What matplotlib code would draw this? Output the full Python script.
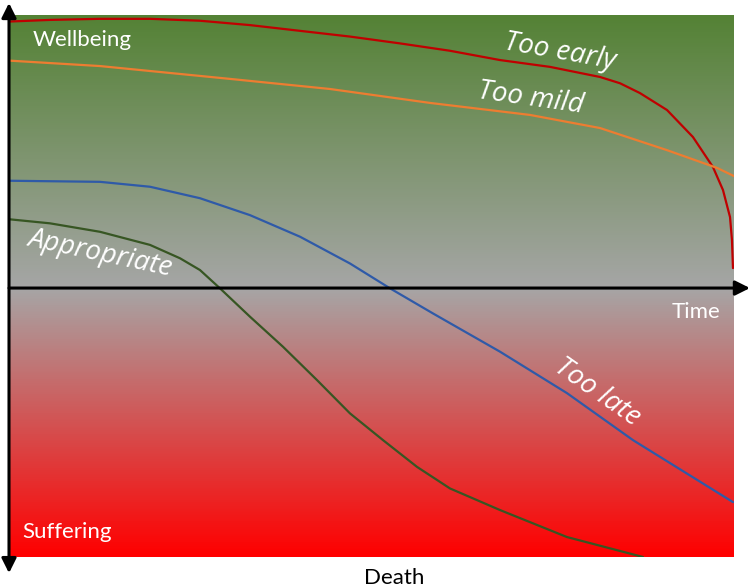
import numpy as np
import matplotlib
matplotlib.use("Agg")
import matplotlib.pyplot as plt
from matplotlib.colors import LinearSegmentedColormap

# ---- data (time 0..100, wellbeing -100..100) ----
early_t = [0, 5.66, 12.55, 19.45, 26.34, 33.24, 40.14, 47.03, 53.93, 60.83, 67.72,
           74.62, 81.52, 84.28, 87.03, 90.76, 94.34, 97.10, 98.48, 99.45, 99.72, 99.86]
early_w = [97.6, 98.2, 98.6, 98.6, 97.9, 96.3, 94.2, 92.1, 89.6, 86.9, 83.5,
           81.0, 77.3, 75.0, 71.4, 65.2, 55.3, 44.3, 35.9, 26.0, 17.6, 7.3]

mild_t = [0, 12.55, 30.48, 44.28, 58.07, 71.86, 81.52, 90.76, 97.66, 100]
mild_w = [83.3, 81.3, 76.6, 72.9, 67.8, 63.4, 58.6, 50.5, 44.0, 41.0]

late_t = [0, 12.55, 19.45, 26.34, 33.24, 40.14, 47.03, 52.55, 58.48, 67.72, 76.97, 86.07, 99.86]
late_w = [39.3, 38.9, 37.1, 32.9, 26.7, 18.8, 9.0, -0.1, -9.3, -23.3, -38.5, -55.7, -78.4]

appr_t = [0, 5.66, 12.55, 19.45, 23.59, 26.34, 29.10, 33.24, 37.79, 42.48, 47.03,
          51.59, 56.28, 60.83, 67.72, 76.97, 87.45]
appr_w = [25.2, 23.7, 20.6, 15.8, 10.9, 6.6, -0.1, -10.5, -21.5, -33.7, -45.9,
          -55.7, -65.5, -73.4, -81.3, -91.2, -98.5]

YMIN, YMAX = -98.5, 100

fig = plt.figure(figsize=(7.5, 5.88), dpi=100)
ax = fig.add_axes([9/750, 31/588, 725/750, 542/588])
ax.set_xlim(0, 100)
ax.set_ylim(YMIN, YMAX)
ax.axis('off')

# gradient background
frac_mid = YMAX / (YMAX - YMIN)
cmap = LinearSegmentedColormap.from_list(
    'bg', [(0, '#548235'), (frac_mid, '#a6a6a6'), (1, '#ff0000')])
grad = np.linspace(0, 1, 512).reshape(-1, 1)
ax.imshow(grad, cmap=cmap, extent=[0, 100, YMIN, YMAX], aspect='auto',
          origin='upper', zorder=0)

# curves
kw = dict(lw=1.6, zorder=3, solid_joinstyle='round', solid_capstyle='round')
ax.plot(early_t, early_w, color='#c00000', **kw)
ax.plot(mild_t, mild_w, color='#ed7d31', **kw)
ax.plot(late_t, late_w, color='#2f5aa8', **kw)
ax.plot(appr_t, appr_w, color='#375623', **kw)

# axes arrows
ax.annotate('', xy=(0, 104.4), xytext=(0, -104.4),
            arrowprops=dict(arrowstyle='<|-|>', lw=2.2, color='black',
                            mutation_scale=22, shrinkA=0, shrinkB=0),
            annotation_clip=False, zorder=5)
ax.annotate('', xy=(102.2, 0), xytext=(0, 0),
            arrowprops=dict(arrowstyle='-|>', lw=2.2, color='black',
                            mutation_scale=22, shrinkA=0, shrinkB=0),
            annotation_clip=False, zorder=5)

plain = dict(family='Lato', fontsize=16)
ax.text(3.2, 90.8, 'Wellbeing', color='white', ha='left', va='center', **plain)
ax.text(1.9, -89.4, 'Suffering', color='white', ha='left', va='center', **plain)
ax.text(98.1, -8.8, 'Time', color='white', ha='right', va='center', **plain)
ax.text(53.1, -106.2, 'Death', color='black', ha='center', va='center',
        clip_on=False, **plain)

ital = dict(family='Open Sans', style='italic', fontsize=20, color='white',
            ha='center', va='center', rotation_mode='anchor')
ax.text(76.0, 86.4, 'Too early', rotation=-10, **ital)
ax.text(71.9, 69.6, 'Too mild', rotation=-8, **ital)
ax.text(81.2, -38.1, 'Too late', rotation=-35, **ital)
ax.text(12.6, 12.8, 'Appropriate', rotation=-12, **ital)

fig.savefig('out.png', dpi=100)
